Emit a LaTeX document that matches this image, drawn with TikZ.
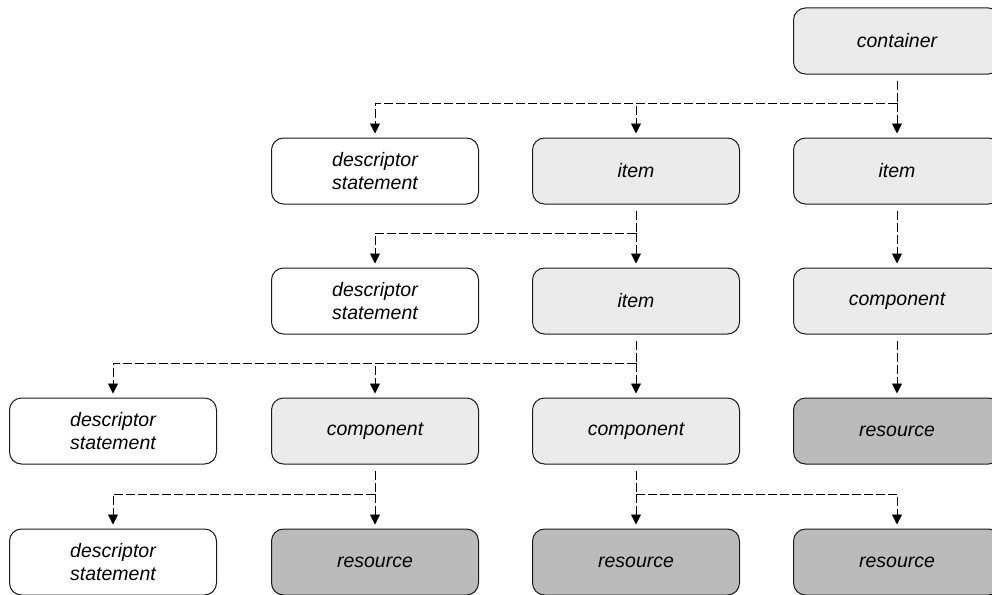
\documentclass[tikz,border=0pt]{standalone}
\usepackage{fontspec}
\setmainfont{Liberation Sans}
\usetikzlibrary{arrows.meta}
\definecolor{lightfill}{HTML}{EBEBEB}
\definecolor{darkfill}{HTML}{BBBBBB}
\definecolor{edge}{HTML}{1A1A1A}
\tikzset{
  box/.style={draw=edge, line width=1pt, rounded corners=12pt, minimum width=207pt, minimum height=66pt,
    align=center, inner sep=0pt, font=\fontsize{19.5}{23}\selectfont\itshape},
  descbox/.style={box, fill=white},
  lightbox/.style={box, fill=lightfill},
  darkbox/.style={box, fill=darkfill},
  dl/.style={draw=black, line width=0.9pt, dash pattern=on 9pt off 3pt},
  arr/.style={dl, -{Triangle[length=10pt,width=10pt]}, shorten >=4pt},
}
\begin{document}
\begin{tikzpicture}[x=1pt,y=-1pt]
\useasboundingbox (0,0) rectangle (992,594);
\clip (0,0) rectangle (992,594);
% row 0
\node[lightbox] (c)  at (897,41) {container};
% row 1
\node[descbox]  (d1) at (375,171) {descriptor\\statement};
\node[lightbox] (i1) at (636,171) {item};
\node[lightbox] (i1r) at (897,171) {item};
% row 2
\node[descbox]  (d2) at (375,301) {descriptor\\statement};
\node[lightbox] (i2) at (636,301) {item};
\node[lightbox] (k2) at (897,301) {component};
% row 3
\node[descbox]  (d3) at (113,431) {descriptor\\statement};
\node[lightbox] (k3a) at (375,431) {component};
\node[lightbox] (k3b) at (636,431) {component};
\node[darkbox]  (r3) at (897,431) {resource};
% row 4
\node[descbox]  (d4) at (113,562) {descriptor\\statement};
\node[darkbox]  (r4a) at (375,562) {resource};
\node[darkbox]  (r4b) at (636,562) {resource};
\node[darkbox]  (r4c) at (897,562) {resource};
% junctions
\coordinate (j0) at (897,103);
\coordinate (j1) at (636,233);
\coordinate (j2) at (636,363);
\coordinate (j3a) at (375,494);
\coordinate (j3b) at (636,494);
% connectors
\draw[dl] ([yshift=-6pt]c.south) -- (j0);
\draw[arr] (j0) -| (d1.north);
\draw[arr] (j0) -| (i1.north);
\draw[arr] (j0) -- (i1r.north);
\draw[dl] ([yshift=-6pt]i1.south) -- (j1);
\draw[arr] (j1) -| (d2.north);
\draw[arr] (j1) -- (i2.north);
\draw[arr] ([yshift=-6pt]i1r.south) -- (k2.north);
\draw[dl] ([yshift=-6pt]i2.south) -- (j2);
\draw[arr] (j2) -| (d3.north);
\draw[arr] (j2) -| (k3a.north);
\draw[arr] (j2) -- (k3b.north);
\draw[arr] ([yshift=-6pt]k2.south) -- (r3.north);
\draw[dl] ([yshift=-6pt]k3a.south) -- (j3a);
\draw[arr] (j3a) -| (d4.north);
\draw[arr] (j3a) -- (r4a.north);
\draw[dl] ([yshift=-6pt]k3b.south) -- (j3b);
\draw[arr] (j3b) -- (r4b.north);
\draw[arr] (j3b) -| (r4c.north);
\end{tikzpicture}
\end{document}
